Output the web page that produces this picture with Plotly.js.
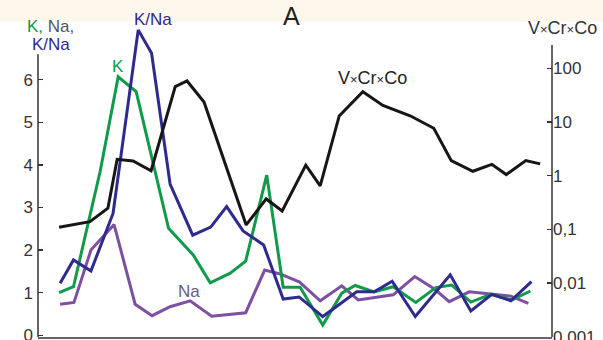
<!DOCTYPE html>
<html><head><meta charset="utf-8">
<script src="https://cdn.plot.ly/plotly-3.0.1.min.js"></script>
<style>html,body{margin:0;padding:0;background:#fff}</style>
</head><body>
<div id="chart" style="width:603px;height:340px"></div>
<script>
// Sample positions (arbitrary units 0-100 along profile) and values
const vccX = [4.1,10.1,13.6,15.4,18.5,22.0,26.7,29.0,32.3,40.5,44.4,47.5,52.1,54.9,58.6,63.2,67.1,72.4,77.0,80.4,84.6,88.3,91.1,94.9,97.7];
const vccY = [0.110,0.139,0.248,2.02,1.88,1.24,45.6,58.2,23.6,0.121,0.369,0.221,1.58,0.644,12.97,36.8,20.4,13.1,7.65,1.91,1.21,1.63,1.05,1.91,1.66];

const kX = [4.1,6.9,12.1,15.6,19.1,25.4,30.2,33.5,37.4,40.4,44.5,47.7,51.0,55.4,59.1,61.7,65.4,69.1,73.5,77.4,80.5,84.2,88.1,92.2,95.8];
const kY = [1.0,1.14,3.85,6.07,5.72,2.51,1.885,1.23,1.46,1.74,3.76,1.13,1.13,0.24,0.99,1.17,1.02,1.14,0.77,1.12,1.18,0.78,0.96,0.83,1.04];

const knaX = [4.3,6.9,10.3,14.6,19.5,22.1,25.7,30.1,33.6,36.7,39.9,43.9,47.7,50.8,55.4,62.0,65.4,68.9,73.4,80.2,84.2,88.3,92.0,96.0];
const knaY = [1.22,1.77,1.51,2.86,7.17,6.62,3.55,2.35,2.54,3.02,2.45,2.12,0.85,0.90,0.44,1.02,1.02,1.27,0.44,1.42,0.57,0.96,0.81,1.26];

const naX = [4.3,7.0,10.3,14.8,18.9,22.2,25.7,29.6,33.8,40.4,44.1,47.1,50.9,54.9,59.1,62.3,69.1,73.3,77.2,80.0,83.9,88.1,92.0,95.4];
const naY = [0.73,0.77,2.0,2.6,0.73,0.46,0.67,0.81,0.45,0.53,1.53,1.44,1.25,0.81,1.16,0.83,0.95,1.38,1.08,0.79,1.02,0.96,0.92,0.75];

const leftTicks = [0,1,2,3,4,5,6];
const rightTickVals = [0.001,0.01,0.1,1,10,100];
const rightTickText = ['0,001','0,01','0,1','1','10','100'];

const GREEN = '#109a4a', BLUE = '#2f2a8e', PURPLE = '#7d50a2', BLACK = '#161616', GRAY = '#333333';
const FONT = 'Liberation Sans, Arial, sans-serif';

const traces = [
  {x: naX, y: naY, type:'scatter', mode:'lines', line:{color:PURPLE, width:3}, yaxis:'y', name:'Na'},
  {x: kX, y: kY, type:'scatter', mode:'lines', line:{color:GREEN, width:3}, yaxis:'y', name:'K'},
  {x: knaX, y: knaY, type:'scatter', mode:'lines', line:{color:BLUE, width:3}, yaxis:'y', name:'K/Na'},
  {x: vccX, y: vccY, type:'scatter', mode:'lines', line:{color:BLACK, width:3}, yaxis:'y2', name:'V×Cr×Co'}
];

function ann(text, x, y, size, color, xanchor){
  return {text:text, x:x, y:y, xref:'paper', yref:'paper', showarrow:false,
          xanchor:xanchor||'center', yanchor:'middle', font:{family:FONT, size:size, color:color}};
}
const X = ['V','Cr','Co'].join('<span style="font-size:13px">×</span>');

const layout = {
  width:603, height:340,
  margin:{l:38, r:51, t:22, b:3, pad:0},
  paper_bgcolor:'#ffffff', plot_bgcolor:'#ffffff',
  showlegend:false,
  font:{family:FONT, color:GRAY},
  xaxis:{range:[0,100], showline:true, linecolor:'#666666', linewidth:2, showticklabels:false,
         ticks:'', showgrid:false, zeroline:false, fixedrange:true},
  yaxis:{range:[-0.04,7.355], tickvals:leftTicks, ticks:'inside', ticklen:5, tickwidth:1.5, tickcolor:GRAY,
         showline:false, showgrid:false, zeroline:false, ticklabeloverflow:'allow', ticklabelstandoff:4,
         tickfont:{family:FONT, size:17, color:GRAY}},
  yaxis2:{type:'log', range:[-3.005,2.864], overlaying:'y', side:'right', tickvals:rightTickVals, ticktext:rightTickText,
          ticks:'inside', ticklen:5, tickwidth:1.5, tickcolor:GRAY, showline:false, showgrid:false, zeroline:false,
          ticklabeloverflow:'allow', tickfont:{family:FONT, size:17, color:GRAY}},
  shapes:[
    {type:'rect', xref:'paper', yref:'paper', x0:-0.08, x1:1.1, y0:1.0, y1:1.07, fillcolor:'#fdf7ec', line:{width:0}, layer:'below'},
    {type:'line', xref:'paper', yref:'paper', x0:0, x1:0, y0:0, y1:0.898, line:{color:GRAY, width:1.5}},
    {type:'line', xref:'paper', yref:'paper', x0:1, x1:1, y0:0, y1:0.927, line:{color:GRAY, width:1.5}}
  ],
  annotations:[
    ann('<span style="color:'+GREEN+'">K,</span> <span style="color:#55556a">Na,</span>', -0.0253, 0.987, 17, GRAY, 'left'),
    ann('K/Na', -0.0156, 0.927, 17, BLUE, 'left'),
    ann('K/Na', 0.2237, 1.0095, 17, BLUE),
    ann('K', 0.1547, 0.860, 17, GREEN),
    ann('Na', 0.2938, 0.146, 17, '#675d80'),
    ann('A', 0.494, 1.019, 25, '#222222'),
    ann(X, 0.650, 0.822, 18, '#222222'),
    ann(X, 1.0214, 0.981, 18, GRAY)
  ]
};

Plotly.newPlot('chart', traces, layout, {displayModeBar:false, staticPlot:true});
</script>
</body></html>
